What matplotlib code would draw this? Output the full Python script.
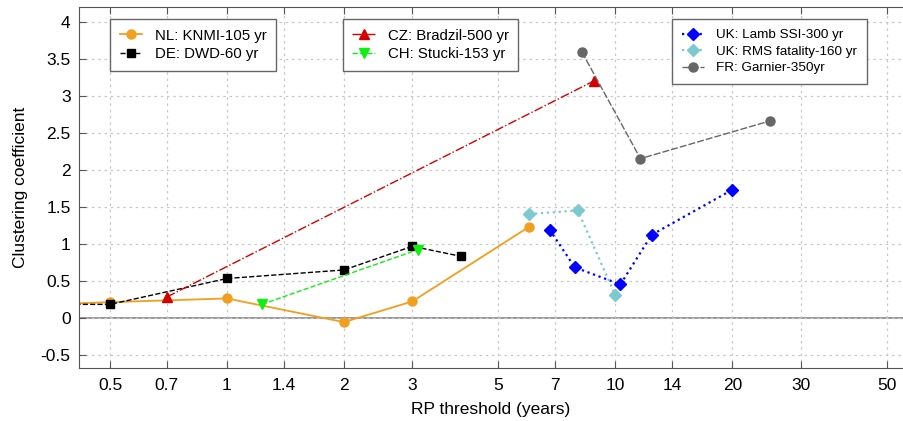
import numpy as np
import matplotlib
matplotlib.use('Agg')
import matplotlib.pyplot as plt

plt.rcParams['font.family'] = ['Liberation Sans', 'DejaVu Sans']

# series data (RP threshold in years, clustering coefficient)
nl_x = [0.3, 0.5, 1, 2, 3, 6]
nl_y = [0.17, 0.21, 0.26, -0.06, 0.22, 1.23]
de_x = [0.3, 0.5, 1, 2, 3, 4]
de_y = [0.18, 0.18, 0.53, 0.645, 0.965, 0.83]
cz_x = [0.7, 8.8]
cz_y = [0.28, 3.2]
ch_x = [1.23, 3.1]
ch_y = [0.18, 0.92]
lamb_x = [6.77, 7.86, 10.3, 12.4, 20]
lamb_y = [1.19, 0.68, 0.45, 1.12, 1.73]
rms_x = [6, 8, 10]
rms_y = [1.40, 1.45, 0.30]
fr_x = [8.2, 11.6, 25]
fr_y = [3.59, 2.15, 2.66]

xticks = [0.5, 0.7, 1, 1.4, 2, 3, 5, 7, 10, 14, 20, 30, 50]
xtick_labels = ['0.5', '0.7', '1', '1.4', '2', '3', '5', '7', '10', '14', '20', '30', '50']
yticks = [-0.5, 0, 0.5, 1, 1.5, 2, 2.5, 3, 3.5, 4]
ytick_labels = ['-0.5', '0', '0.5', '1', '1.5', '2', '2.5', '3', '3.5', '4']

fig = plt.figure(figsize=(9.04, 4.21), dpi=100)
ax = fig.add_axes([0.0874, 0.1259, 0.9115, 0.8575])

ax.axhline(0, color='#888888', lw=1.2, zorder=1)

ms = 6.5
l_nl, = ax.plot(nl_x, nl_y, '-', color='#f29e1f', marker='o', ms=ms, lw=1.3, label='NL: KNMI-105 yr')
l_de, = ax.plot(de_x, de_y, '--', color='black', marker='s', ms=ms - 0.5, lw=1.0, label='DE: DWD-60 yr')
l_cz, = ax.plot(cz_x, cz_y, '-.', color='#d40000', marker='^', ms=ms + 1, lw=1.0, label='CZ: Bradzil-500 yr')
l_ch, = ax.plot(ch_x, ch_y, '--', color='#11ee11', marker='v', ms=ms + 1, lw=1.0, label='CH: Stucki-153 yr')
l_lamb, = ax.plot(lamb_x, lamb_y, ':', color='#0000ff', marker='D', ms=ms - 0.5, lw=1.6, label='UK: Lamb SSI-300 yr')
l_rms, = ax.plot(rms_x, rms_y, ':', color='#7ec8cf', marker='D', ms=ms - 0.5, lw=1.6, label='UK: RMS fatality-160 yr')
l_fr, = ax.plot(fr_x, fr_y, '--', color='#666666', marker='o', ms=ms, lw=1.0, dashes=(5, 1.5), label='FR: Garnier-350yr')

ax.set_xscale('log')
ax.set_xlim(0.416, 55)
ax.set_ylim(-0.68, 4.2)
ax.set_xticks(xticks)
ax.set_xticklabels(xtick_labels)
ax.minorticks_off()
ax.set_yticks(yticks)
ax.set_yticklabels(ytick_labels)
ax.tick_params(axis='both', direction='in', labelsize=12.5, color='#555555', length=5)
ax.tick_params(axis='x', top=True, pad=7)
ax.tick_params(axis='y', pad=6)
ax.grid(True, linestyle=(0, (2, 3)), color='#c8c8c8', lw=0.9)
for s in ['left', 'bottom', 'top']:
    ax.spines[s].set_color('#555555')
ax.spines['right'].set_visible(False)

ax.set_xlabel('RP threshold (years)', fontsize=12.5, labelpad=7)
ax.set_ylabel('Clustering coefficient', fontsize=12.5, labelpad=9)

leg_kw = dict(loc='upper left', fontsize=10.8, fancybox=False, edgecolor='#666666',
              framealpha=1, borderaxespad=0, handlelength=1.5, handletextpad=0.85,
              labelspacing=0.3, borderpad=0.65)
leg1 = ax.legend(handles=[l_nl, l_de], bbox_to_anchor=(0.0376, 0.967), **leg_kw)
ax.add_artist(leg1)
leg2 = ax.legend(handles=[l_cz, l_ch], bbox_to_anchor=(0.320, 0.967), **leg_kw)
ax.add_artist(leg2)
leg3 = ax.legend(handles=[l_lamb, l_rms, l_fr], bbox_to_anchor=(0.7197, 0.967),
                 **{**leg_kw, 'fontsize': 9.7, 'labelspacing': 0.3, 'borderpad': 0.75,
                    'handlelength': 1.6, 'handletextpad': 0.9})
for lg in (leg1, leg2, leg3):
    lg.get_frame().set_linewidth(1.0)

fig.savefig('out.png', dpi=100)
